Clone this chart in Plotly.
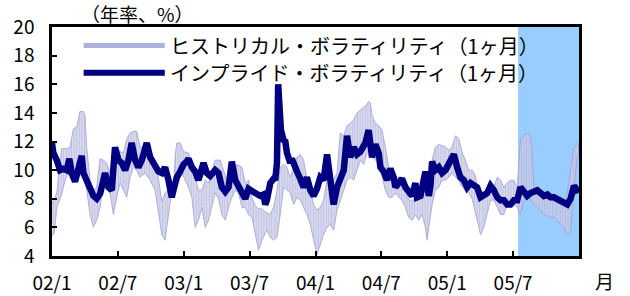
import plotly.graph_objects as go

# x values are months since January 2002
tick_vals = [0, 6, 12, 18, 24, 30, 36, 42]
tick_text = ["02/1", "02/7", "03/1", "03/7", "04/1", "04/7", "05/1", "05/7"]
y_ticks = [4, 6, 8, 10, 12, 14, 16, 18, 20]

shade_start = 42.45
shade_end = 48.0

implied_t = [0.0, 0.12, 0.43, 0.73, 1.03, 1.34, 1.58, 1.79, 2.10, 2.40, 2.71, 2.86, 3.16, 3.47, 3.77, 4.07, 4.38, 4.68, 4.83, 5.14,
             5.44, 5.74, 6.05, 6.35, 6.66, 6.96, 7.26, 7.57, 7.87, 8.18, 8.63, 8.94, 9.39, 9.70, 10.0, 10.30, 10.61, 10.91, 11.06, 11.37,
             11.67, 11.98, 12.28, 12.43, 12.74, 13.04, 13.34, 13.80, 14.10, 14.41, 14.86, 15.17, 15.47, 15.78, 16.08, 16.38, 16.69, 16.99, 17.30, 17.60,
             17.90, 18.21, 18.51, 18.97, 19.27, 19.42, 19.57, 19.88, 20.18, 20.33, 20.49, 20.60, 20.70, 20.85, 21.09, 21.25, 21.40, 21.70, 21.85, 22.01,
             22.31, 22.61, 22.92, 23.22, 23.53, 23.83, 24.13, 24.44, 24.74, 25.05, 25.35, 25.65, 25.96, 26.26, 26.57, 26.87, 27.17, 27.48, 27.78, 28.09,
             28.39, 28.54, 28.84, 29.0, 29.15, 29.45, 29.76, 29.91, 30.21, 30.52, 30.82, 31.12, 31.28, 31.58, 31.88, 32.19, 32.49, 32.80, 33.10, 33.25,
             33.56, 33.86, 34.01, 34.32, 34.47, 34.62, 34.92, 35.23, 35.53, 35.84, 36.14, 36.44, 36.60, 36.90, 37.20, 37.51, 37.81, 38.12, 38.42, 38.72,
             39.03, 39.33, 39.64, 39.94, 40.24, 40.55, 40.85, 41.16, 41.46, 41.76, 42.07, 42.37, 42.67, 42.98, 43.28, 43.59, 43.89, 44.19, 44.50, 44.80,
             45.11, 45.41, 45.71, 46.02, 46.32, 46.63, 46.93, 47.23, 47.54, 47.84, 47.95]
implied_v = [11.9, 11.2, 10.7, 10.0, 10.1, 10.0, 10.8, 9.8, 9.2, 10.0, 11.0, 9.8, 9.2, 8.6, 8.2, 8.0, 8.35, 9.3, 9.8, 8.8,
             8.6, 11.6, 10.7, 10.5, 10.0, 10.7, 11.9, 10.7, 10.2, 10.7, 11.9, 10.9, 10.3, 9.9, 9.8, 10.2, 9.3, 8.1, 8.6, 9.5,
             9.9, 10.4, 10.6, 10.8, 10.2, 9.9, 9.3, 10.5, 9.8, 9.6, 10.0, 9.8, 8.8, 8.5, 8.8, 10.6, 9.3, 8.8, 8.5, 8.0,
             8.7, 8.6, 8.4, 8.2, 8.3, 7.6, 7.9, 9.1, 9.4, 9.3, 10.5, 16.0, 14.0, 12.8, 12.1, 12.0, 11.2, 10.5, 10.8, 10.4,
             9.9, 9.4, 8.8, 9.5, 8.6, 8.2, 8.7, 9.5, 9.3, 11.1, 9.3, 7.6, 8.8, 9.5, 10.0, 12.4, 10.9, 11.6, 11.1, 11.3,
             11.6, 11.9, 12.8, 11.8, 10.9, 11.8, 11.2, 10.2, 9.9, 9.3, 10.1, 9.5, 8.8, 9.1, 9.4, 8.8, 8.4, 8.2, 9.1, 8.1,
             8.2, 9.5, 9.9, 8.2, 8.9, 10.6, 10.0, 10.2, 9.8, 10.0, 10.4, 10.9, 11.1, 10.2, 9.5, 9.3, 8.8, 9.1, 9.0, 8.8,
             8.1, 8.2, 8.4, 8.9, 8.6, 8.1, 7.9, 7.9, 7.6, 7.6, 7.9, 7.9, 8.8, 8.5, 8.2, 8.4, 8.5, 8.6, 8.4, 8.2,
             8.3, 8.1, 8.1, 8.0, 7.9, 7.8, 7.6, 8.0, 8.9, 8.6, 8.4]

hist_hi_t = [0.0, 0.12, 0.43, 0.88, 1.34, 1.64, 1.95, 2.25, 2.55, 2.86, 3.01, 3.16, 3.47, 3.77, 4.07, 4.38, 4.68, 4.98, 5.29, 5.59,
             5.90, 6.20, 6.50, 6.81, 7.11, 7.42, 7.72, 8.02, 8.63, 8.94, 9.39, 9.70, 10.0, 10.30, 10.61, 11.06, 11.22, 11.37, 11.67, 11.98,
             12.43, 12.74, 13.04, 13.34, 13.65, 13.95, 14.26, 14.86, 15.32, 15.62, 15.93, 16.38, 16.84, 17.30, 17.60, 17.90, 18.21, 18.51, 18.81, 19.12,
             19.42, 19.88, 20.18, 20.49, 20.79, 21.09, 21.40, 21.70, 22.01, 22.31, 22.61, 22.92, 23.22, 23.53, 23.83, 24.13, 24.44, 24.74, 25.05, 25.35,
             25.65, 25.96, 26.26, 26.57, 26.87, 27.17, 27.48, 27.78, 28.09, 28.39, 28.69, 28.84, 29.0, 29.15, 29.45, 29.76, 30.06, 30.36, 30.67, 30.97,
             31.28, 31.88, 32.19, 32.49, 32.80, 33.10, 33.71, 34.01, 34.32, 34.62, 34.92, 35.23, 35.84, 36.14, 36.44, 36.75, 37.05, 37.36, 37.66, 37.96,
             38.27, 38.57, 38.72, 39.03, 39.33, 39.64, 39.94, 40.24, 40.55, 40.85, 41.16, 41.46, 41.76, 42.07, 42.37, 42.67, 42.98, 43.28, 43.59, 43.74,
             43.89, 44.19, 44.50, 44.80, 45.11, 45.41, 45.71, 46.02, 46.32, 46.63, 46.93, 47.23, 47.54, 47.84, 47.95]
hist_hi_v = [7.6, 7.8, 8.4, 11.5, 11.5, 11.6, 12.9, 13.0, 14.1, 14.1, 13.8, 11.6, 9.3, 8.6, 8.8, 10.8, 10.7, 10.5, 9.8, 10.9,
             11.6, 11.3, 11.2, 12.2, 12.6, 12.7, 12.7, 11.6, 11.6, 11.4, 10.6, 9.4, 7.8, 8.4, 8.6, 8.4, 11.0, 11.9, 11.9, 11.3,
             11.2, 10.2, 9.5, 8.6, 8.6, 9.3, 9.1, 10.7, 10.7, 10.0, 9.3, 9.3, 10.4, 10.2, 9.1, 9.3, 8.1, 7.5, 7.3, 7.3,
             7.1, 6.9, 7.4, 8.6, 10.2, 10.4, 10.2, 9.5, 10.2, 10.9, 11.1, 10.7, 9.3, 8.6, 7.6, 7.2, 7.4, 7.9, 9.3, 8.8,
             9.3, 9.8, 12.6, 12.4, 13.1, 13.3, 13.5, 14.0, 14.2, 14.4, 14.6, 14.8, 14.7, 13.8, 13.3, 13.1, 12.8, 11.6, 10.2, 10.0,
             9.5, 9.5, 8.6, 7.9, 7.9, 8.1, 8.1, 8.8, 9.3, 10.7, 11.6, 11.8, 11.6, 11.4, 11.6, 12.4, 12.2, 11.2, 10.7, 10.0,
             10.0, 9.6, 8.8, 8.6, 8.4, 8.6, 9.3, 8.8, 9.5, 9.3, 8.8, 9.1, 9.3, 9.3, 8.8, 12.1, 12.4, 12.6, 12.4, 10.9,
             8.8, 8.6, 8.4, 8.4, 8.1, 8.1, 7.9, 7.9, 7.7, 7.6, 8.4, 10.0, 11.6, 11.8, 11.9]

hist_lo_t = [0.0, 0.2, 0.45, 0.88, 1.19, 1.49, 1.79, 2.10, 2.40, 2.71, 3.16, 3.47, 3.77, 4.07, 4.38, 4.68, 4.98, 5.29, 5.59, 5.90,
             6.20, 6.50, 6.81, 7.11, 7.42, 7.72, 8.02, 8.48, 8.94, 9.39, 9.70, 10.0, 10.30, 10.61, 10.91, 11.22, 11.52, 11.82, 12.13, 12.43,
             12.74, 13.04, 13.34, 13.65, 13.95, 14.26, 14.56, 14.86, 15.17, 15.47, 15.78, 16.08, 16.38, 16.69, 16.99, 17.30, 17.60, 17.90, 18.21, 18.51,
             18.81, 19.12, 19.42, 19.57, 19.88, 20.18, 20.49, 20.79, 21.09, 21.40, 21.70, 22.01, 22.31, 22.61, 22.92, 23.22, 23.53, 23.83, 24.13, 24.44,
             24.74, 25.05, 25.35, 25.65, 25.96, 26.26, 26.57, 26.87, 27.17, 27.48, 27.78, 28.09, 28.39, 28.69, 29.0, 29.15, 29.45, 29.76, 30.06, 30.36,
             30.67, 30.97, 31.28, 31.58, 31.88, 32.19, 32.49, 32.80, 33.10, 33.40, 33.71, 34.01, 34.16, 34.32, 34.62, 34.92, 35.23, 35.53, 35.84, 36.14,
             36.44, 36.75, 37.05, 37.36, 37.66, 37.96, 38.27, 38.42, 38.72, 39.03, 39.33, 39.64, 39.94, 40.24, 40.55, 40.85, 41.16, 41.46, 41.76, 42.07,
             42.37, 42.67, 42.98, 43.28, 43.59, 43.89, 44.19, 44.50, 44.80, 45.11, 45.41, 45.71, 46.02, 46.32, 46.63, 46.93, 47.23, 47.54, 47.84, 47.95]
hist_lo_v = [5.4, 5.6, 7.4, 8.3, 9.3, 9.8, 9.3, 9.3, 10.2, 10.0, 8.6, 6.9, 6.0, 6.5, 7.4, 9.3, 8.8, 8.4, 6.9, 8.1,
             9.1, 8.6, 8.1, 9.5, 10.2, 10.0, 9.5, 9.8, 9.3, 8.6, 6.9, 5.5, 5.1, 6.9, 8.6, 8.8, 9.3, 9.8, 9.3, 8.8,
             8.1, 6.0, 6.5, 7.4, 6.0, 6.5, 7.4, 8.4, 8.0, 6.9, 6.5, 7.4, 8.1, 8.6, 8.4, 7.4, 7.4, 6.9, 6.7, 5.5,
             4.4, 5.1, 5.6, 5.8, 5.3, 5.1, 5.3, 6.9, 8.8, 8.6, 8.4, 7.6, 8.1, 7.9, 7.4, 6.9, 6.2, 5.1, 4.1, 4.8,
             5.5, 6.0, 6.2, 5.8, 7.2, 7.9, 8.6, 9.3, 9.5, 9.3, 10.0, 10.7, 10.4, 11.2, 11.5, 10.9, 10.7, 10.5, 9.5, 8.6,
             8.1, 8.1, 8.4, 8.1, 7.9, 7.4, 6.7, 6.5, 6.9, 6.5, 6.9, 6.0, 5.1, 6.0, 7.6, 8.6, 8.8, 9.3, 9.3, 9.5,
             9.8, 9.5, 9.3, 8.8, 8.6, 8.4, 8.0, 7.6, 6.5, 5.5, 6.0, 6.9, 7.9, 7.9, 7.4, 6.9, 6.9, 7.6, 7.6, 7.6,
             7.4, 6.9, 7.9, 8.3, 7.9, 7.6, 7.4, 7.2, 6.9, 6.8, 6.7, 6.7, 6.5, 6.2, 6.0, 5.5, 5.7, 8.8, 10.9, 11.0]

legend_names = ["ヒストリカル・ボラティリティ（1ヶ月）", "インプライド・ボラティリティ（1ヶ月）"]
unit_label = "（年率、%）"
x_unit = "月"

NAVY = "#000080"
LAV = "#9a9ad0"
FONT = "Noto Sans CJK JP"

fig = go.Figure()

fig.add_shape(type="rect", xref="x", yref="paper", x0=shade_start, x1=shade_end, y0=0, y1=1,
              fillcolor="#99ccff", line=dict(width=0), layer="below")

band_x = hist_hi_t + hist_lo_t[::-1]
band_y = hist_hi_v + hist_lo_v[::-1]
fig.add_trace(go.Scatter(
    x=band_x, y=band_y, mode="lines", fill="toself",
    line=dict(width=1, color="rgba(160,160,210,0.8)"),
    fillcolor="rgba(205,205,235,0.7)",
    fillpattern=dict(shape="|", fgcolor=LAV, bgcolor="rgba(222,222,242,0.7)", size=2.6, solidity=0.6),
    name=legend_names[0], showlegend=False, hoverinfo="skip"))

fig.add_trace(go.Scatter(
    x=implied_t, y=implied_v, mode="lines",
    line=dict(color=NAVY, width=6.5),
    name=legend_names[1], showlegend=False))

# manual legend
rows = [0.919, 0.800]
fig.add_shape(type="line", xref="paper", yref="paper", x0=0.060, x1=0.214, y0=rows[0], y1=rows[0],
              line=dict(color="#b0b0dc", width=5))
fig.add_shape(type="line", xref="paper", yref="paper", x0=0.060, x1=0.214, y0=rows[1], y1=rows[1],
              line=dict(color=NAVY, width=6))
for name, yy in zip(legend_names, rows):
    fig.add_annotation(text=name, xref="paper", yref="paper", x=0.220, y=yy, xanchor="left", yanchor="middle",
                       showarrow=False, font=dict(family=FONT, size=20, color="black"))

fig.add_annotation(text=unit_label, xref="paper", yref="paper", x=0.163, y=1.057, xanchor="center", yanchor="middle",
                   showarrow=False, font=dict(family=FONT, size=19, color="black"))
fig.add_annotation(text=x_unit, xref="paper", yref="paper", x=1.049, y=-0.105, xanchor="center", yanchor="middle",
                   showarrow=False, font=dict(family=FONT, size=19, color="black"))

fig.update_xaxes(range=[0, 48], tickvals=tick_vals, ticktext=tick_text, ticks="inside", ticklen=5, tickwidth=1.5,
                 tickcolor="black", showline=True, linecolor="black", linewidth=2.5, mirror=True, showgrid=False,
                 zeroline=False, tickfont=dict(family=FONT, size=19, color="black"), ticklabelstandoff=8,
                 automargin=False)
fig.update_yaxes(range=[4, 20], tickvals=y_ticks, ticks="inside", ticklen=5, tickwidth=1.5,
                 tickcolor="black", showline=True, linecolor="black", linewidth=2.5, mirror=True, showgrid=False,
                 zeroline=False, tickfont=dict(family=FONT, size=19, color="black"), ticklabelstandoff=11,
                 automargin=False)

fig.update_layout(width=630, height=296, margin=dict(l=52, r=51, t=27, b=40, autoexpand=False),
                  paper_bgcolor="white", plot_bgcolor="white", showlegend=False)

fig.write_html("out.html", config={"displayModeBar": False},
               post_script="document.body.style.margin='0px';")
